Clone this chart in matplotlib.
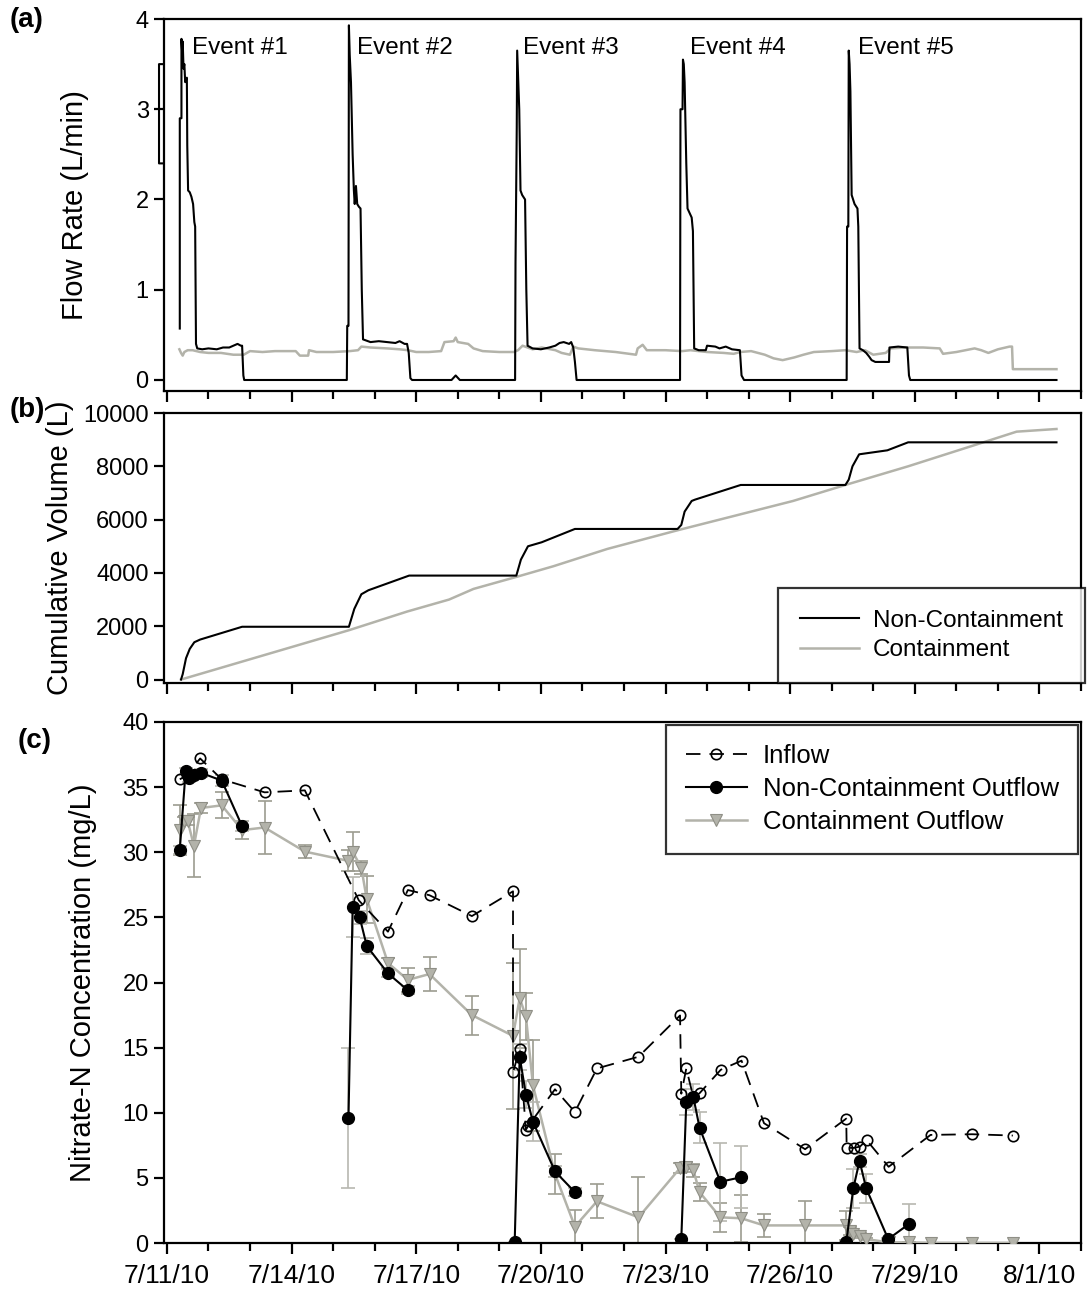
import numpy as np
import matplotlib
matplotlib.use("Agg")
import matplotlib.pyplot as plt
import matplotlib.dates as mdates
from matplotlib.ticker import FixedLocator, NullFormatter
from datetime import datetime, timedelta

plt.rcParams['font.family'] = ['Liberation Sans', 'DejaVu Sans']

nan = np.nan
START = datetime(2010, 7, 11)

# ---------------- Panel (a): flow rate (L/min), time in days since 7/11/10 ----------------
nc_flow_day = [-0.08, -0.19, -0.19, -0.08, nan,
               0.31, 0.31, 0.35, 0.35, 0.37, 0.38, 0.40, 0.42, 0.44, 0.48, 0.49, 0.51, 0.55, 0.59,
               0.63, 0.66, 0.68, 0.70, 0.73, 0.85, 1.0, 1.2, 1.35, 1.5, 1.6, 1.7, 1.78, 1.81, 1.84,
               1.86, 4.33, 4.34, 4.37, 4.38, 4.40, 4.43, 4.47, 4.50, 4.52, 4.55, 4.58, 4.62, 4.66,
               4.69, 4.72, 4.9, 5.1, 5.3, 5.5, 5.6, 5.72, 5.78, 5.82, 5.86, 5.90, 6.85, 6.95, 7.05,
               8.38, 8.39, 8.42, 8.43, 8.45, 8.48, 8.51, 8.55, 8.62, 8.65, 8.68, 8.8, 9.0, 9.2, 9.35,
               9.45, 9.55, 9.68, 9.73, 9.78, 9.82, 9.86, 12.35, 12.36, 12.41, 12.42, 12.44, 12.46,
               12.50, 12.53, 12.58, 12.63, 12.66, 12.69, 12.8, 12.97, 13.0, 13.2, 13.3, 13.45, 13.6,
               13.79, 13.83, 13.89, 16.36, 16.37, 16.40, 16.41, 16.43, 16.45, 16.48, 16.55, 16.62,
               16.64, 16.67, 16.75, 16.83, 16.90, 16.96, 17.05, 17.2, 17.38, 17.39, 17.6, 17.82,
               17.86, 17.89, 21.41]
nc_flow = [2.4, 2.4, 3.5, 3.5, nan,
           0.57, 2.9, 2.9, 3.78, 3.6, 3.75, 3.45, 3.5, 3.3, 3.35, 2.6, 2.1, 2.08, 2.03,
           1.95, 1.75, 1.7, 0.4, 0.35, 0.34, 0.35, 0.34, 0.36, 0.36, 0.38, 0.40, 0.38, 0.38, 0.05,
           0.0, 0.0, 0.6, 0.6, 3.93, 3.6, 3.3, 2.5, 2.1, 1.95, 2.15, 1.95, 1.92, 1.9,
           1.0, 0.45, 0.42, 0.43, 0.42, 0.41, 0.43, 0.40, 0.40, 0.3, 0.02, 0.0, 0.0, 0.05, 0.0,
           0.0, 1.3, 2.8, 3.65, 3.4, 3.0, 2.1, 2.05, 2.0, 1.0, 0.38, 0.35, 0.34, 0.36, 0.38,
           0.41, 0.42, 0.40, 0.42, 0.36, 0.2, 0.0, 0.0, 3.0, 3.0, 3.55, 3.5, 3.3,
           2.4, 1.9, 1.85, 1.8, 1.65, 0.35, 0.33, 0.33, 0.38, 0.37, 0.35, 0.37, 0.34,
           0.33, 0.05, 0.0, 0.0, 1.7, 1.7, 3.65, 3.5, 3.2, 2.05, 1.95, 1.9,
           1.7, 0.35, 0.33, 0.30, 0.26, 0.22, 0.2, 0.2, 0.2, 0.36, 0.37, 0.36,
           0.05, 0.0, 0.0]

c_flow_day = [0.30, 0.34, 0.38, 0.42, 0.5, 0.62, 0.8, 1.0, 1.3, 1.6, 1.85, 2.0, 2.3, 2.6, 3.1, 3.2,
              3.4, 3.42, 3.6, 4.0, 4.4, 4.6, 4.68, 4.9, 5.3, 5.6, 5.8, 6.0, 6.3, 6.6, 6.68, 6.9,
              6.95, 7.0, 7.25, 7.38, 7.6, 8.0, 8.35, 8.45, 8.56, 8.8, 9.02, 9.35, 9.5, 9.7, 9.78,
              9.9, 10.3, 10.8, 11.29, 11.33, 11.45, 11.55, 12.0, 12.4, 12.6, 13.0, 13.4, 13.64,
              13.8, 14.06, 14.39, 14.6, 14.82, 15.1, 15.32, 15.57, 16.0, 16.33, 16.6, 16.8, 17.0,
              17.3, 17.42, 17.8, 18.2, 18.6, 18.68, 19.0, 19.44, 19.6, 19.77, 20.0, 20.28, 20.34,
              20.36, 21.41]
c_flow = [0.34, 0.30, 0.27, 0.31, 0.33, 0.33, 0.31, 0.30, 0.30, 0.28, 0.28, 0.32, 0.31, 0.32, 0.32,
          0.27, 0.27, 0.33, 0.31, 0.31, 0.32, 0.33, 0.37, 0.36, 0.35, 0.34, 0.33, 0.31, 0.31, 0.32,
          0.42, 0.43, 0.47, 0.42, 0.40, 0.35, 0.32, 0.31, 0.31, 0.33, 0.38, 0.34, 0.36, 0.33, 0.30,
          0.28, 0.37, 0.35, 0.33, 0.31, 0.28, 0.35, 0.39, 0.33, 0.33, 0.32, 0.33, 0.31, 0.30, 0.29,
          0.31, 0.32, 0.28, 0.24, 0.22, 0.25, 0.28, 0.31, 0.32, 0.33, 0.31, 0.33, 0.28, 0.30, 0.35,
          0.36, 0.36, 0.35, 0.29, 0.31, 0.35, 0.33, 0.30, 0.34, 0.37, 0.37, 0.12, 0.12]

event_labels = ['Event #1', 'Event #2', 'Event #3', 'Event #4', 'Event #5']
event_label_day = [0.6, 4.58, 8.58, 12.59, 16.64]

# ---------------- Panel (b): cumulative volume (L) ----------------
nc_vol_day = [0.34, 0.38, 0.46, 0.55, 0.66, 0.80, 1.81, 4.38, 4.51, 4.68, 4.85, 5.83, 8.41, 8.52,
              8.69, 9.02, 9.82, 12.29, 12.38, 12.46, 12.63, 12.71, 13.81, 16.33, 16.41, 16.5,
              16.66, 17.34, 17.84, 21.41]
nc_vol = [0, 200, 800, 1150, 1400, 1500, 1980, 1980, 2650, 3200, 3350, 3900, 3900, 4500,
          5000, 5150, 5650, 5650, 5800, 6300, 6700, 6750, 7300, 7300, 7500, 8000,
          8450, 8600, 8900, 8900]
c_vol_day = [0.34, 4.38, 5.78, 6.79, 7.38, 8.41, 9.3, 10.6, 12.29, 14.06, 15.07, 16.33, 17.84,
             19.65, 20.45, 21.41]
c_vol = [0, 1850, 2550, 3000, 3400, 3850, 4250, 4900, 5600, 6300, 6700, 7300, 8000,
         8900, 9300, 9400]

# ---------------- Panel (c): nitrate-N concentration (mg/L) ----------------
in_day = [0.31, 0.48, 0.80, 1.32, 2.35, 3.32, 4.62, 5.32, 5.80, 6.32, 7.34, 8.33, 8.33, 8.49,
          8.64, 8.70, 9.34, 9.82, 10.35, 11.35, 12.35, 12.38, 12.50, 12.67, 12.82, 13.33, 13.83,
          14.37, 15.36, 16.35, 16.36, 16.53, 16.68, 16.84, 17.37, 18.38, 19.38, 20.36]
in_conc = [35.6, 35.9, 37.2, 35.6, 34.6, 34.75, 26.3, 23.9, 27.1, 26.7, 25.1, 27.0, 13.1, 14.9,
           8.7, 9.0, 11.8, 10.06, 13.4, 14.3, 17.47, 11.46, 13.4, 11.2, 11.5, 13.3, 14.0,
           9.2, 7.2, 9.55, 7.3, 7.3, 7.4, 7.9, 5.85, 8.3, 8.35, 8.25]

nco_day = [0.31, 0.45, 0.52, 0.65, 0.82, 1.32, 1.81, nan,
           4.37, 4.47, 4.64, 4.81, 5.32, 5.80, nan,
           8.37, 8.49, 8.64, 8.81, 9.34, 9.82, nan,
           12.38, 12.50, 12.67, 12.82, 13.32, 13.82, nan,
           16.35, 16.52, 16.67, 16.83, 17.36, 17.86]
nco_conc = [30.2, 36.2, 35.7, 35.9, 36.1, 35.5, 32.0, nan,
            9.6, 25.8, 25.0, 22.8, 20.7, 19.4, nan,
            0.05, 14.3, 11.4, 9.3, 5.5, 3.9, nan,
            0.3, 10.8, 11.2, 8.85, 4.7, 5.05, nan,
            0.05, 4.2, 6.3, 4.2, 0.3, 1.46]
nco_err = [0.3, 0.3, 0.3, 0.3, 0.3, 0.4, 0.4, nan,
           5.4, 2.3, 0.5, 0.6, 0.3, 0.3, nan,
           0.0, 1.0, 1.0, 1.5, 0.4, 0.3, nan,
           0.0, 1.0, 1.0, 1.2, 3.0, 2.4, nan,
           0.0, 1.5, 0.5, 1.1, 0.1, 1.5]

co_day = [0.31, 0.40, 0.50, 0.65, 0.82, 1.32, 1.81, 2.35, 3.32, 4.35, 4.47, 4.68, 4.81, 5.32,
          5.80, 6.32, 7.34, 8.33, 8.49, 8.64, 8.81, 9.34, 9.82, 10.35, 11.35, 12.35, 12.50,
          12.67, 12.82, 13.32, 13.82, 14.37, 15.36, 16.35, 16.45, 16.52, 16.67, 16.83, 17.37,
          17.86, 18.38, 19.38, 20.36]
co_conc = [31.7, 32.4, 32.4, 30.5, 33.4, 33.6, 31.7, 31.9, 30.05, 29.35, 30.05, 28.8, 26.4, 21.5,
           20.2, 20.65, 17.5, 15.9, 18.8, 17.4, 12.1, 5.3, 1.26, 3.2, 1.97, 5.75, 5.85,
           5.6, 3.9, 1.97, 1.9, 1.35, 1.35, 1.35, 0.9, 0.7, 0.55, 0.3, 0.05,
           0.05, 0.0, 0.0, 0.0]
co_err = [1.9, 0.3, 0.3, 2.4, 0.4, 1.0, 0.7, 2.0, 0.5, 0.8, 1.5, 0.5, 1.8, 0.4,
          0.9, 1.3, 1.5, 5.6, 3.8, 1.8, 3.5, 1.5, 1.3, 1.3, 3.1, 0.4, 0.4,
          0.5, 0.7, 1.1, 1.8, 0.9, 1.9, 1.1, 0.3, 0.2, 0.2, 0.1, 0.0,
          0.0, 0.0, 0.0, 0.0]

tick_labels = ['7/11/10', '7/14/10', '7/17/10', '7/20/10', '7/23/10', '7/26/10', '7/29/10', '8/1/10']


def to_num(days):
    return np.array([mdates.date2num(START + timedelta(days=float(d))) if d == d else nan for d in days])


GRAY = '#b3b3aa'
GRAY_EDGE = '#8f8f86'

W, H = 1087, 1294
fig = plt.figure(figsize=(W / 100, H / 100), dpi=100)


def ax_rect(left, right, top, bottom):
    return [left / W, 1 - bottom / H, (right - left) / W, (bottom - top) / H]


ax_a = fig.add_axes(ax_rect(164, 1081, 19, 391))
ax_b = fig.add_axes(ax_rect(164, 1081, 413, 683))
ax_c = fig.add_axes(ax_rect(164, 1081, 722, 1243))

xmin = mdates.date2num(START - timedelta(days=0.07))
xmax = mdates.date2num(datetime(2010, 8, 2))
major = [mdates.date2num(datetime(2010, 7, 11) + timedelta(days=3 * i)) for i in range(8)]
minor = [mdates.date2num(datetime(2010, 7, 11) + timedelta(days=i)) for i in range(23)]

for ax in (ax_a, ax_b, ax_c):
    ax.set_xlim(xmin, xmax)
    ax.xaxis.set_major_locator(FixedLocator(major))
    ax.xaxis.set_minor_locator(FixedLocator(minor))
    for sp in ax.spines.values():
        sp.set_linewidth(1.6)
    ax.tick_params(axis='both', which='major', direction='out', length=7, width=1.6,
                   labelsize=17, pad=4)
    ax.tick_params(axis='x', which='minor', direction='out', length=6, width=1.6)
    ax.tick_params(axis='x', which='major', length=8)

ax_a.xaxis.set_major_formatter(NullFormatter())
ax_b.xaxis.set_major_formatter(NullFormatter())
ax_c.set_xticklabels(tick_labels)
ax_c.tick_params(axis='x', which='major', labelsize=19, pad=7)

# (a)
ax_a.plot(to_num(c_flow_day), c_flow, color=GRAY, lw=1.8, zorder=2)
ax_a.plot(to_num(nc_flow_day), nc_flow, color='black', lw=1.5, zorder=3, clip_on=False)
ax_a.set_ylim(-0.122, 4)
ax_a.set_yticks([0, 1, 2, 3, 4])
ax_a.set_ylabel('Flow Rate (L/min)', fontsize=21, va='center')
ax_a.yaxis.set_label_coords((75 - 164) / 917, 0.5)
for lab, d in zip(event_labels, event_label_day):
    ax_a.text(to_num([d])[0], 3.68, lab, fontsize=17.5, ha='left', va='center')

# (b)
ax_b.plot(to_num(nc_vol_day), nc_vol, color='black', lw=1.5, label='Non-Containment', zorder=3)
ax_b.plot(to_num(c_vol_day), c_vol, color=GRAY, lw=1.8, label='Containment', zorder=2)
ax_b.set_ylim(-130, 10000)
ax_b.set_yticks([0, 2000, 4000, 6000, 8000, 10000])
ax_b.set_ylabel('Cumulative Volume (L)', fontsize=21, va='center')
ax_b.yaxis.set_label_coords((60 - 164) / 917, 0.5)
leg_b = ax_b.legend(loc='lower right', bbox_to_anchor=(1085 / W, 1 - 683 / H),
                    bbox_transform=fig.transFigure, borderaxespad=0, fontsize=17.5,
                    frameon=True, fancybox=False, handlelength=2.4, handletextpad=0.6,
                    labelspacing=0.3, borderpad=0.9)
leg_b.get_frame().set_edgecolor('black')
leg_b.get_frame().set_linewidth(1.6)

# (c)
xc_in = to_num(in_day)
xc_nc = to_num(nco_day)
xc_c = to_num(co_day)
ax_c.errorbar(xc_c, co_conc, yerr=co_err, fmt='none', ecolor='#9c9c90', elinewidth=1.2,
              capsize=5, capthick=1.2, zorder=2)
ax_c.errorbar(xc_nc, nco_conc, yerr=nco_err, fmt='none', ecolor='#b8b8b0', elinewidth=1.2,
              capsize=5, capthick=1.2, zorder=2)
ax_c.plot(xc_in, in_conc, color='black', lw=1.3, ls=(0, (8, 5)), marker='o', ms=7.5,
          mfc='none', mec='black', mew=1.2, label='Inflow', zorder=4)
ax_c.plot(xc_nc, nco_conc, color='black', lw=1.5, marker='o', ms=8.5, mfc='black',
          mec='black', label='Non-Containment Outflow', zorder=5)
ax_c.plot(xc_c, co_conc, color=GRAY, lw=1.8, marker='v', ms=8, mfc=GRAY, mec=GRAY_EDGE,
          mew=0.8, label='Containment Outflow', zorder=3)
ax_c.set_ylim(0, 40)
ax_c.set_yticks(range(0, 41, 5))
ax_c.set_ylabel('Nitrate-N Concentration (mg/L)', fontsize=21, va='center')
ax_c.yaxis.set_label_coords((83 - 164) / 917, 0.5)
leg_c = ax_c.legend(loc='upper right', bbox_to_anchor=(1078 / W, 1 - 725 / H),
                    bbox_transform=fig.transFigure, borderaxespad=0, fontsize=18.5,
                    frameon=True, fancybox=False, handlelength=2.4, handletextpad=0.6,
                    labelspacing=0.35, borderpad=0.75)
leg_c.get_frame().set_edgecolor('black')
leg_c.get_frame().set_linewidth(1.6)

# panel letters
fig.text(27 / W, 1 - 20 / H, '(a)', fontsize=20, fontweight='bold', ha='center', va='center')
fig.text(27 / W, 1 - 410 / H, '(b)', fontsize=20, fontweight='bold', ha='center', va='center')
fig.text(35 / W, 1 - 741 / H, '(c)', fontsize=20, fontweight='bold', ha='center', va='center')

fig.savefig('out.png', dpi=100)
